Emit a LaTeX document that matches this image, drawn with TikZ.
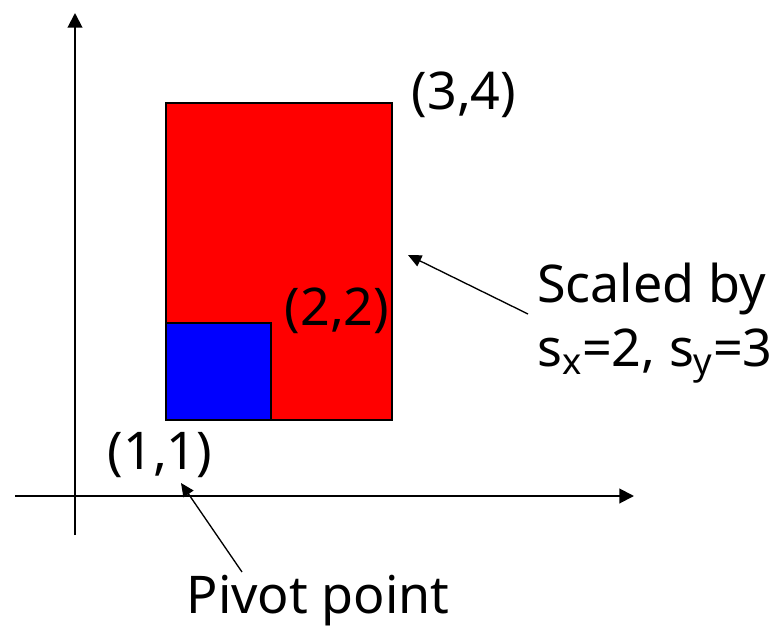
\documentclass[tikz,border=0pt]{standalone}
\usepackage{fontspec}
\setmainfont{Noto Sans}
\usepackage{tikz}
\usetikzlibrary{arrows.meta,calc,positioning}
\definecolor{red}{HTML}{FF0000}
\definecolor{blue}{HTML}{0000FF}

\begin{document}
\begin{tikzpicture}[x=0.75pt,y=-0.75pt,>={Triangle[length=11pt,width=11pt]},
    lbl/.style={font=\fontsize{39}{44}\selectfont,inner sep=0pt},
    ptr/.style={->,>={Triangle[length=10pt,width=9pt]},line width=1pt}]
        \useasboundingbox (0,0) rectangle (782,628);
        \coordinate (xl) at (15,496);  \coordinate (xr) at (634,496);
        \coordinate (yb) at (75,535);  \coordinate (yt) at (75,13);
        \draw[->,line width=1.5pt] (xl) -- (xr);
        \draw[->,line width=1.5pt] (yb) -- (yt);
        \draw[fill=red,line width=1.2pt] (166,103) rectangle (392,420);
        \draw[fill=blue,line width=1.2pt] (166,323) rectangle (271,420);
        \node[lbl] (p34) at (464,95) {(3,4)};
        \node[lbl] (p22) at (337,311) {(2,2)};
        \node[lbl] (p11) at (160,455) {(1,1)};
        \node[lbl,anchor=base west] (scl) at (537,302) {Scaled by};
        \node[lbl,anchor=base west] (sxy) at (537,366) {s\textsubscript{x}=2, s\textsubscript{y}=3};
        \node[lbl] (piv) at (318,601) {Pivot point};
        \coordinate (fromS) at (528,314); \coordinate (tipS) at (408,255);
        \coordinate (fromP) at (242,572); \coordinate (tipP) at (181,483);
        \draw[ptr] (fromS) -- (tipS);
        \draw[ptr] (fromP) -- (tipP);
      \end{tikzpicture}
\end{document}
